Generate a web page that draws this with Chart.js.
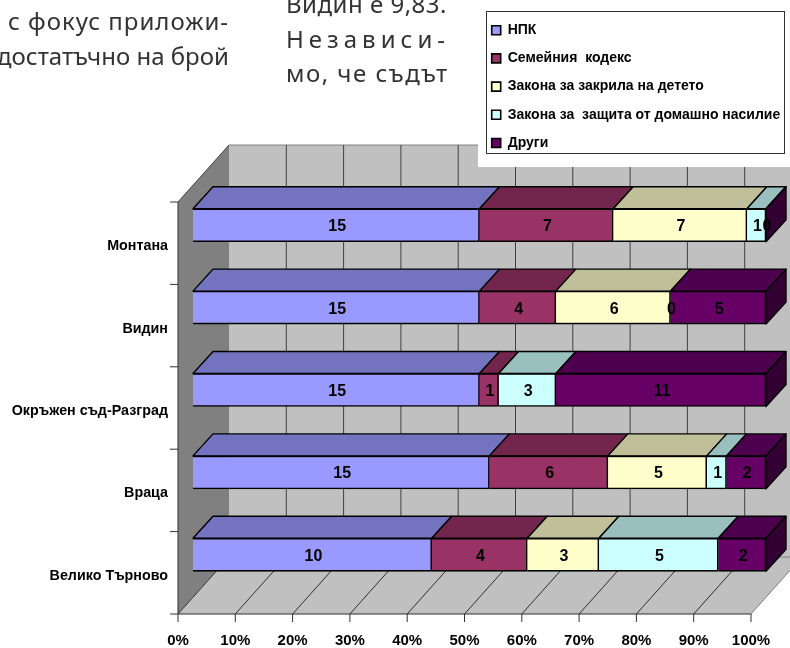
<!DOCTYPE html>
<html>
<head>
<meta charset="utf-8">
<title>Chart</title>
<script src="https://cdn.jsdelivr.net/npm/chart.js@4"></script>
<style>
  html, body { margin: 0; padding: 0; background: #fff; overflow: hidden; }
  #wrap { position: relative; width: 790px; height: 648px; overflow: hidden; }
  #canvas { position: absolute; left: 0; top: 0; }
  .line { position: absolute; font-family: "Noto Sans", sans-serif; font-size: 24px; color: #333; white-space: nowrap; line-height: 24px; }
</style>
</head>
<body>
<div id="wrap">
  <canvas id="canvas" width="790" height="648"></canvas>
  <div class="line" style="left:8px;top:9px;letter-spacing:1px">с фокус приложи-</div>
  <div class="line" style="left:-3px;top:44px">достатъчно на брой</div>
  <div class="line" style="left:286px;top:-8px;letter-spacing:.5px">Видин е 9,83.</div>
  <div class="line" style="left:286px;top:27px;letter-spacing:5px">Независи-</div>
  <div class="line" style="left:286px;top:61px;letter-spacing:1.5px">мо, че съдът</div>
</div>
<script>
const categories = ['Монтана', 'Видин', 'Окръжен съд-Разград', 'Враца', 'Велико Търново'];
const seriesNames = ['НПК', 'Семейния  кодекс', 'Закона за закрила на детето', 'Закона за  защита от домашно насилие', 'Други'];
const npk = [15, 15, 15, 15, 10];
const kodeks = [7, 4, 1, 6, 4];
const zakrila = [7, 6, null, 5, 3];
const nasilie = [1, 0, 3, 1, 5];
const drugi = [0, 5, 11, 2, 2];
const tickValues = [0, 10, 20, 30, 40, 50, 60, 70, 80, 90, 100];

const frontColors = ['#9999ff', '#993366', '#ffffcc', '#ccffff', '#660066'];
const topColors = ['#7373bf', '#73264d', '#bfbf99', '#99bfbf', '#4d004d'];
const sideColor = '#330033';

const counts = [npk, kodeks, zakrila, nasilie, drugi];
const totals = categories.map((c, i) => counts.reduce((sum, s) => sum + (s[i] || 0), 0));

// offsets of the fake 3d box, all relative to the bars' own scale
const barDx = 20, barDy = 22;
const frontDx = 15, frontDy = 18;
const backDx = 36, backDy = 39;

function poly(ctx, pts, fill, stroke, width) {
  ctx.beginPath();
  pts.forEach((p, i) => i ? ctx.lineTo(p[0], p[1]) : ctx.moveTo(p[0], p[1]));
  ctx.closePath();
  if (fill) { ctx.fillStyle = fill; ctx.fill(); }
  if (stroke) { ctx.strokeStyle = stroke; ctx.lineWidth = width; ctx.stroke(); }
}

function seg(ctx, x1, y1, x2, y2, color, width) {
  ctx.beginPath();
  ctx.moveTo(x1, y1);
  ctx.lineTo(x2, y2);
  ctx.strokeStyle = color;
  ctx.lineWidth = width;
  ctx.stroke();
}

const box3d = {
  id: 'box3d',
  afterLayout(chart) {
    // legend sits over the back wall, top right
    const legend = chart.legend;
    legend.left = 477.5;
    legend.right = 785;
    legend.top = 9;
    legend.bottom = 400;
  },
  beforeDraw(chart) {
    const ctx = chart.ctx;
    const a = chart.chartArea;
    const x = chart.scales.x, y = chart.scales.y;
    ctx.fillStyle = '#fff';
    ctx.fillRect(0, 0, chart.width, chart.height);

    const fl = a.left - frontDx, fr = a.right - frontDx;
    const ft = a.top + frontDy, fb = a.bottom + frontDy;
    const bl = a.left + backDx, br = a.right + backDx;
    const bt = a.top - backDy, bb = a.bottom - backDy;

    ctx.save();
    poly(ctx, [[bl, bt], [br, bt], [br, bb], [bl, bb]], '#c0c0c0');
    poly(ctx, [[fl, ft], [bl, bt], [bl, bb], [fl, fb]], '#808080');
    poly(ctx, [[fl, fb], [fr, fb], [br, bb], [bl, bb]], '#c0c0c0');
    seg(ctx, bl, bt, br, bt, '#808080', 1);
    seg(ctx, fr, fb, br, bb, '#808080', 1);
    seg(ctx, bl, bb, br, bb, '#808080', 1);

    tickValues.forEach(v => {
      const px = x.getPixelForValue(v);
      if (v > 0 && v < 100) {
        seg(ctx, px + backDx, bt, px + backDx, bb, '#404040', 1);
      }
      if (v < 100) seg(ctx, px - frontDx, fb, px + backDx, bb, '#303030', 1);
      seg(ctx, px - frontDx, fb, px - frontDx, fb + 8, '#303030', 1);
    });
    seg(ctx, fl, fb, fr, fb, '#303030', 1);
    seg(ctx, fl, ft, fl, fb, '#303030', 1);
    seg(ctx, fl, ft, bl, bt, '#404040', 1);
    const band = (a.bottom - a.top) / categories.length;
    for (let i = 0; i <= categories.length; i++) {
      const py = y.getPixelForValue(i) - band / 2 + frontDy;
      seg(ctx, fl - 8, py, fl, py, '#303030', 1);
    }

    // white patch and frame behind the legend
    ctx.fillStyle = '#fff';
    ctx.fillRect(478, 0, chart.width - 478, 167);
    ctx.strokeStyle = '#333';
    ctx.lineWidth = 1;
    ctx.strokeRect(486.5, 11.5, 298, 142);
    ctx.restore();
  },
  beforeDatasetsDraw(chart) {
    const ctx = chart.ctx;
    ctx.save();
    ctx.lineJoin = 'round';
    chart.data.datasets.forEach((ds, d) => {
      chart.getDatasetMeta(d).data.forEach((bar, i) => {
        if (ds.data[i] === null) return;
        const top = bar.y - bar.height / 2;
        poly(ctx, [[bar.base, top], [bar.base + barDx, top - barDy], [bar.x + barDx, top - barDy], [bar.x, top]], topColors[d], '#000', 1.4);
      });
    });
    const last = chart.getDatasetMeta(chart.data.datasets.length - 1).data;
    last.forEach(bar => {
      const top = bar.y - bar.height / 2, bottom = bar.y + bar.height / 2;
      poly(ctx, [[bar.x, top], [bar.x + barDx, top - barDy], [bar.x + barDx, bottom - barDy], [bar.x, bottom]], sideColor, '#000', 1.4);
    });
    ctx.restore();
  },
  afterDatasetsDraw(chart) {
    const ctx = chart.ctx;
    ctx.save();
    ctx.font = 'bold 16px "Liberation Sans"';
    ctx.fillStyle = '#000';
    ctx.textAlign = 'center';
    ctx.textBaseline = 'middle';
    chart.data.datasets.forEach((ds, d) => {
      chart.getDatasetMeta(d).data.forEach((bar, i) => {
        if (counts[d][i] === null) return;
        ctx.fillText(counts[d][i], (bar.x + bar.base) / 2 + 1, bar.y + 1.5);
      });
    });
    ctx.restore();
  }
};

const datasets = seriesNames.map((name, d) => ({
  label: name,
  data: counts[d].map((v, i) => v === null ? null : v / totals[i] * 100),
  backgroundColor: frontColors[d],
  borderColor: '#000',
  borderWidth: 1.6,
  barThickness: 33
}));

const ctx = document.getElementById('canvas').getContext('2d');
Chart.defaults.font.family = '"Liberation Sans", Arial, sans-serif';
Chart.defaults.color = '#000';

const myChart = new Chart(ctx, {
  type: 'bar',
  data: { labels: categories, datasets: datasets },
  plugins: [box3d],
  options: {
    indexAxis: 'y',
    responsive: false,
    animation: false,
    layout: { padding: { top: 184, right: 24, left: 0, bottom: 0 } },
    plugins: {
      tooltip: { enabled: false },
      legend: {
        position: 'chartArea',
        align: 'start',
        labels: { boxWidth: 9, boxHeight: 9, padding: 14.2, font: { size: 14, weight: 'bold' } }
      }
    },
    scales: {
      x: {
        stacked: true,
        min: 0,
        max: 100,
        afterFit(scale) { scale.height = 52; scale.paddingLeft = 0; scale.paddingRight = 0; },
        grid: { display: false },
        border: { display: false },
        ticks: {
          stepSize: 10,
          autoSkip: false,
          maxRotation: 0,
          padding: 28,
          labelOffset: -frontDx,
          font: { size: 15, weight: 'bold' },
          callback: v => v + '%'
        }
      },
      y: {
        stacked: true,
        afterFit(scale) { scale.width = 193; scale.paddingTop = 0; scale.paddingBottom = 0; },
        grid: { display: false },
        border: { display: false },
        ticks: {
          autoSkip: false,
          padding: 17,
          labelOffset: 21,
          font: { size: 14.3, weight: 'bold' }
        }
      }
    }
  }
});
</script>
</body>
</html>
